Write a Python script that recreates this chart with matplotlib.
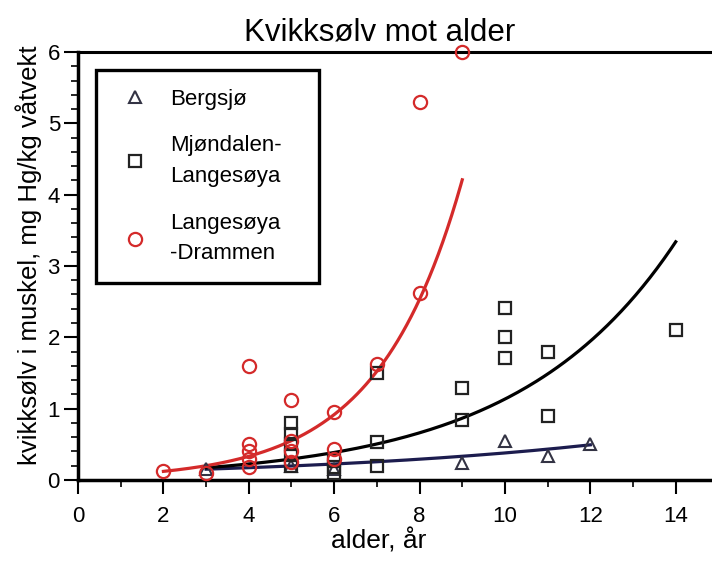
import matplotlib
matplotlib.use("Agg")
import matplotlib.pyplot as plt
import numpy as np
from matplotlib.ticker import MultipleLocator

plt.rcParams['font.family'] = ['Liberation Sans', 'DejaVu Sans']

# Bergsjø (triangles)
berg_age = [3, 5, 6, 9, 10, 11, 12]
berg_hg = [0.15, 0.2, 0.15, 0.24, 0.55, 0.33, 0.5]

# Mjøndalen-Langesøya (squares)
mjo_age = [5, 5, 5, 5, 5, 6, 6, 6, 7, 7, 7, 9, 9, 10, 10, 10, 11, 11, 14]
mjo_hg = [0.8, 0.65, 0.5, 0.35, 0.2, 0.28, 0.18, 0.1, 1.5, 0.53, 0.19,
          1.29, 0.84, 2.41, 2.01, 1.71, 1.8, 0.89, 2.1]

# Langesøya-Drammen (circles)
lan_age = [2, 3, 4, 4, 4, 4, 4, 5, 5, 5, 5, 6, 6, 6, 7, 8, 8, 9]
lan_hg = [0.12, 0.1, 1.6, 0.5, 0.4, 0.3, 0.18, 1.12, 0.55, 0.4, 0.25,
          0.95, 0.43, 0.3, 1.62, 2.62, 5.3, 6.0]

# exponential trend lines y = a*exp(b*x)
berg_fit = (0.1015, 0.1316, 3, 12)
mjo_fit = (0.0762, 0.27, 3, 14)
lan_fit = (0.0435, 0.508, 2, 9)

red = '#d42a2a'
navy = '#1c1c4e'

fig = plt.figure(figsize=(7.12, 5.62), dpi=100)
ax = fig.add_axes([0.1096, 0.146, 0.8904, 0.7615])

def trend(fit, color):
    a, b, x0, x1 = fit
    xs = np.linspace(x0, x1, 200)
    ax.plot(xs, a * np.exp(b * xs), color=color, lw=2.3, zorder=2)

trend(berg_fit, navy)
trend(mjo_fit, 'black')
trend(lan_fit, red)

ax.plot(berg_age, berg_hg, ls='none', marker='^', ms=9, mfc='none',
        mec='#333344', mew=1.5, label='Bergsjø', zorder=3)
ax.plot(mjo_age, mjo_hg, ls='none', marker='s', ms=9, mfc='none',
        mec='#222222', mew=1.6, label='Mjøndalen-\nLangesøya', zorder=3)
ax.plot(lan_age, lan_hg, ls='none', marker='o', ms=9.5, mfc='none',
        mec=red, mew=1.6, label='Langesøya\n-Drammen', zorder=4, clip_on=False)

ax.set_xlim(0, 14.85)
ax.set_ylim(0, 6)
ax.xaxis.set_major_locator(MultipleLocator(2))
ax.xaxis.set_minor_locator(MultipleLocator(1))
ax.yaxis.set_major_locator(MultipleLocator(1))
ax.yaxis.set_minor_locator(MultipleLocator(0.2))
ax.tick_params(which='major', length=10, width=1.5, labelsize=16, direction='out')
ax.tick_params(which='minor', length=5, width=1.2, direction='out')
ax.tick_params(axis='y', pad=3)
ax.tick_params(axis='x', pad=9)

ax.spines['right'].set_visible(False)
for s in ['left', 'bottom']:
    ax.spines[s].set_linewidth(2.5)
ax.spines['top'].set_linewidth(2.2)

ax.set_title('Kvikksølv mot alder', fontsize=22.5, pad=8, x=0.475)
ax.set_xlabel('alder, år', fontsize=19, labelpad=1, x=0.475)
ax.set_ylabel('kvikksølv i muskel, mg Hg/kg våtvekt', fontsize=18.5,
              labelpad=4, y=0.525)

leg = ax.legend(loc='upper left', bbox_to_anchor=(0.0284, 0.2, 0.352, 0.758),
                mode='expand', fontsize=16,
                frameon=True, fancybox=False, edgecolor='black', framealpha=1,
                borderpad=0.85, labelspacing=1.15, handlelength=1.85,
                handletextpad=0.65, borderaxespad=0)
leg.get_frame().set_linewidth(2.4)
for t in leg.get_texts():
    t.set_linespacing(1.6)

fig.savefig('out.png', dpi=100)
